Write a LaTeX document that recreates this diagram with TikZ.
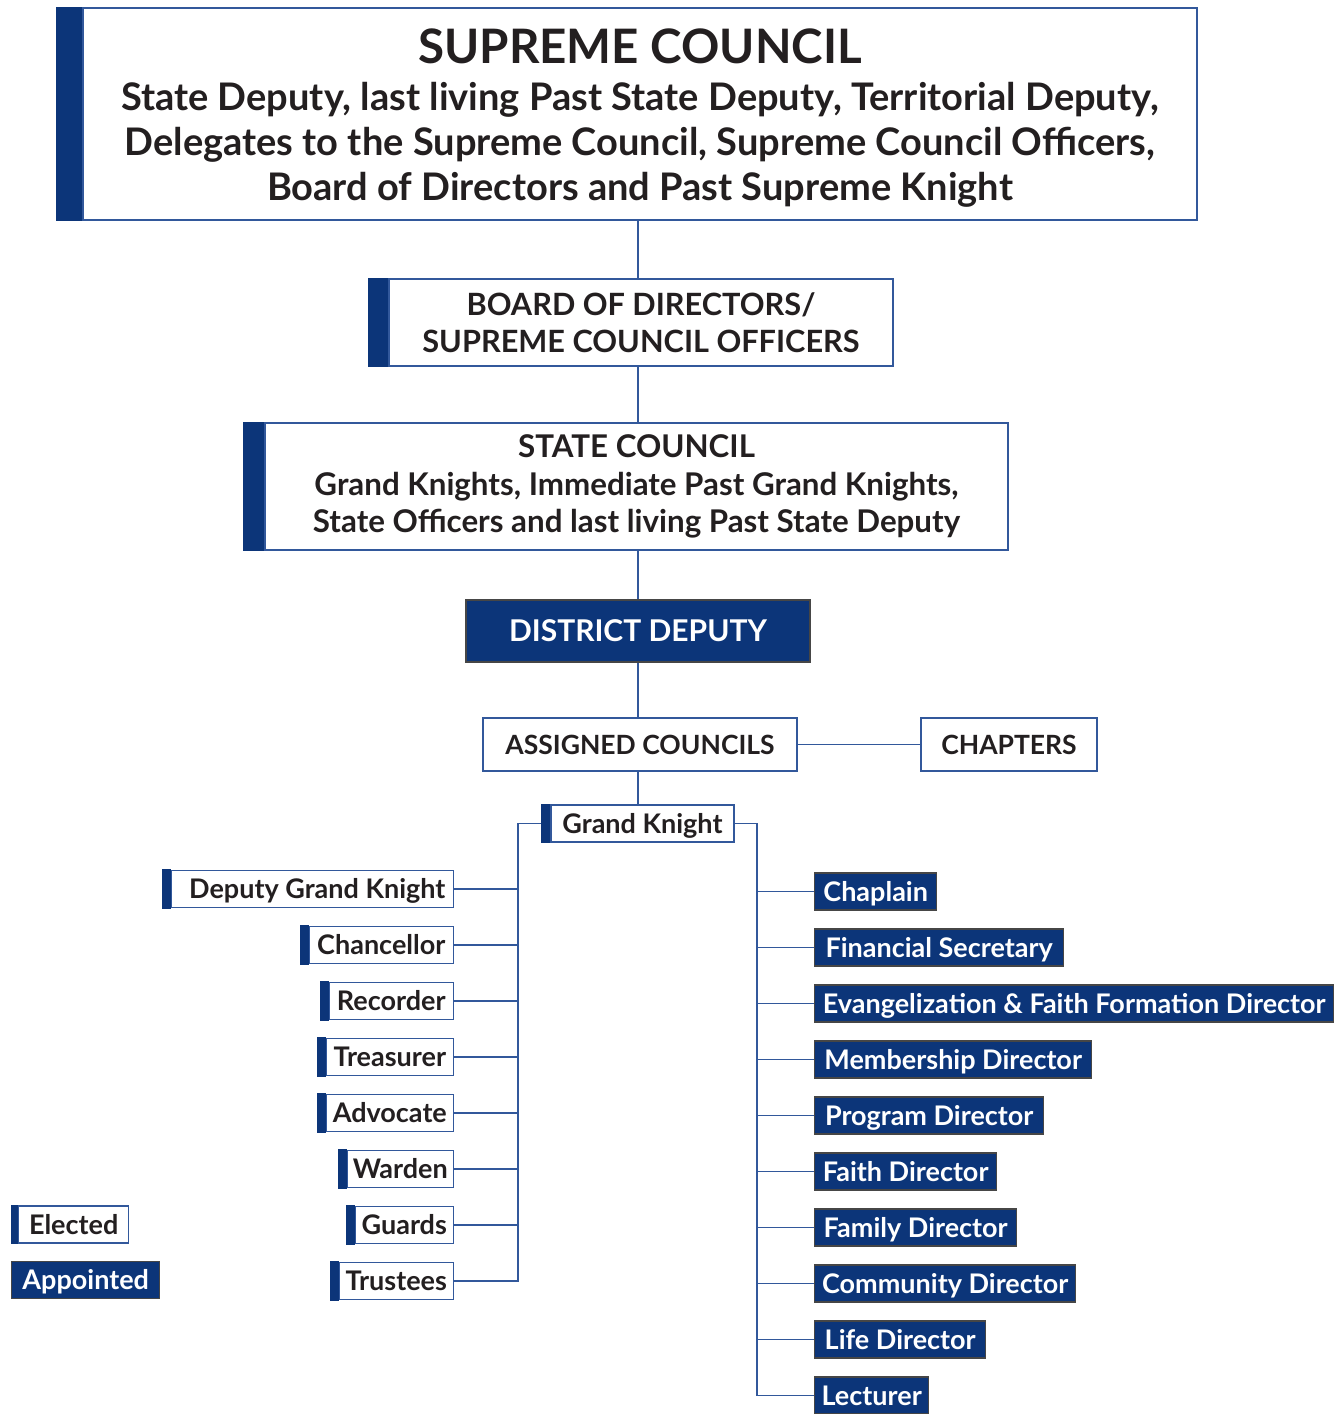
\documentclass[tikz,border=0pt]{standalone}
\usepackage{fontspec}
\setmainfont{Lato}
\definecolor{navy}{RGB}{12,53,121}
\definecolor{linec}{RGB}{50,88,155}
\definecolor{ink}{RGB}{35,31,32}
\definecolor{ddborder}{RGB}{70,70,70}
\begin{document}
\begin{tikzpicture}[x=1pt,y=-1pt,
  base/.style={font=\bfseries, text=ink, inner sep=0pt, align=center},
  elect/.style={base, draw=linec, line width=1.4pt, fill=white},
  appt/.style={base, draw=ddborder, line width=1.4pt, fill=navy, text=white},
  conn/.style={draw=linec, line width=1.4pt},
  barfill/.style={fill=navy},
  sz/.style 2 args={minimum width=#1, minimum height=#2},
  small/.style={font=\bfseries\fontsize{27}{27}\selectfont, text height=19pt, text depth=0pt},
  lb/.style={elect, small, anchor=east, minimum height=37, minimum width=#1},
  rb/.style={appt, small, anchor=west, minimum height=37, minimum width=#1}
]
\useasboundingbox (0,0) rectangle (1340,1414);

% top boxes
\node[elect, sz={1114}{212}, font=\bfseries\fontsize{38}{45}\selectfont] (sc) at (640,114)
  {\rule{0pt}{42pt}{\fontsize{47.5}{45}\selectfont SUPREME COUNCIL}\\[2pt]
   State Deputy, last living Past State Deputy, Territorial Deputy,\\
   Delegates to the Supreme Council, Supreme Council Officers,\\
   Board of Directors and Past Supreme Knight};
\node[elect, sz={504}{87}, font=\bfseries\fontsize{30.7}{37.5}\selectfont] (bd) at (641,322.5)
  {BOARD OF DIRECTORS/\\SUPREME COUNCIL OFFICERS};
\node[elect, sz={743}{127}, font=\bfseries\fontsize{31.3}{37.5}\selectfont] (st) at (636.5,486.5)
  {STATE COUNCIL\\Grand Knights, Immediate Past Grand Knights,\\State Officers and last living Past State Deputy};
\node[appt, sz={344}{62}, font=\bfseries\fontsize{30}{30}\selectfont, text height=21.5pt, text depth=0pt] (dd) at (638,631) {DISTRICT DEPUTY};
\node[elect, sz={314}{53}, small, font=\bfseries\fontsize{26.5}{27}\selectfont] (ac) at (640,744.5) {ASSIGNED COUNCILS};
\node[elect, sz={176}{53}, small, font=\bfseries\fontsize{26.5}{27}\selectfont] (ch) at (1009,744.5) {CHAPTERS};
\node[elect, sz={183}{37}, small] (gk) at (642.5,823.5) {Grand Knight};

% left column (elected)
\node[lb=282] (dgk) at (454,889) {\hspace*{10pt}Deputy Grand Knight};
\node[lb=144] (chan) at (454,945) {Chancellor};
\node[lb=124] (rec) at (454,1001) {Recorder};
\node[lb=127] (tre) at (454,1057) {Treasurer};
\node[lb=127] (adv) at (454,1113) {Advocate};
\node[lb=106] (war) at (454,1169) {Warden};
\node[lb=98] (gua) at (454,1225) {Guards};
\node[lb=114] (tru) at (454,1281) {Trustees};

% right column (appointed)
\node[rb=122] (chap) at (814,891.5) {Chaplain};
\node[rb=249] (fin) at (814,947.5) {Financial Secretary};
\node[rb=519] (evan) at (814,1003.5) {Evangelization \& Faith Formation Director};
\node[rb=277] (mem) at (814,1059.5) {Membership Director};
\node[rb=229] (prog) at (814,1115.5) {Program Director};
\node[rb=182] (faith) at (814,1171.5) {Faith Director};
\node[rb=202] (fam) at (814,1227.5) {Family Director};
\node[rb=261] (com) at (814,1283.5) {Community Director};
\node[rb=171] (life) at (814,1339.5) {Life Director};
\node[rb=114] (lec) at (814,1395.5) {Lecturer};

% legend
\node[elect, small, sz={110}{37}, anchor=west] (leg1) at (18,1224.5) {Elected};
\node[appt, small, sz={148}{37}, anchor=west] (leg2) at (11,1280) {Appointed};

% connectors
\coordinate (lbus) at (518,0);
\coordinate (rbus) at (757,0);
\draw[conn] (dd.north |- sc.south) -- (dd.north |- bd.north);
\draw[conn] (dd.north |- bd.south) -- (dd.north |- st.north);
\draw[conn] (dd.north |- st.south) -- (dd.north);
\draw[conn] (dd.south) -- (dd.south |- ac.north);
\draw[conn] (dd.south |- ac.south) -- (dd.south |- gk.north);
\draw[conn] (ac.east) -- (ch.west);
\draw[conn] (gk.west) -| (lbus |- tru.east) -- (tru.east);
\foreach \n in {dgk,chan,rec,tre,adv,war,gua} \draw[conn] (\n.east) -- (lbus |- \n.east);
\draw[conn] (gk.east) -| (rbus |- lec.west) -- (lec.west);
\foreach \n in {chap,fin,evan,mem,prog,faith,fam,com,life} \draw[conn] (rbus |- \n.west) -- (\n.west);

% blue bars of elected boxes
\fill[barfill] ([yshift=0.7pt]sc.north west) rectangle ([xshift=-26pt,yshift=-0.7pt]sc.south west);
\fill[barfill] ([yshift=0.7pt]bd.north west) rectangle ([xshift=-20pt,yshift=-0.7pt]bd.south west);
\fill[barfill] ([yshift=0.7pt]st.north west) rectangle ([xshift=-21pt,yshift=-0.7pt]st.south west);
\fill[barfill] ([yshift=0.7pt]gk.north west) rectangle ([xshift=-9pt,yshift=-0.7pt]gk.south west);
\foreach \n in {dgk,chan,rec,tre,adv,war,gua,tru}
  \fill[barfill] ([yshift=0.7pt]\n.north west) rectangle ([xshift=-9pt,yshift=-0.7pt]\n.south west);
\fill[barfill] ([yshift=0.7pt]leg1.north west) rectangle ([xshift=-7pt,yshift=-0.7pt]leg1.south west);
\end{tikzpicture}
\end{document}
